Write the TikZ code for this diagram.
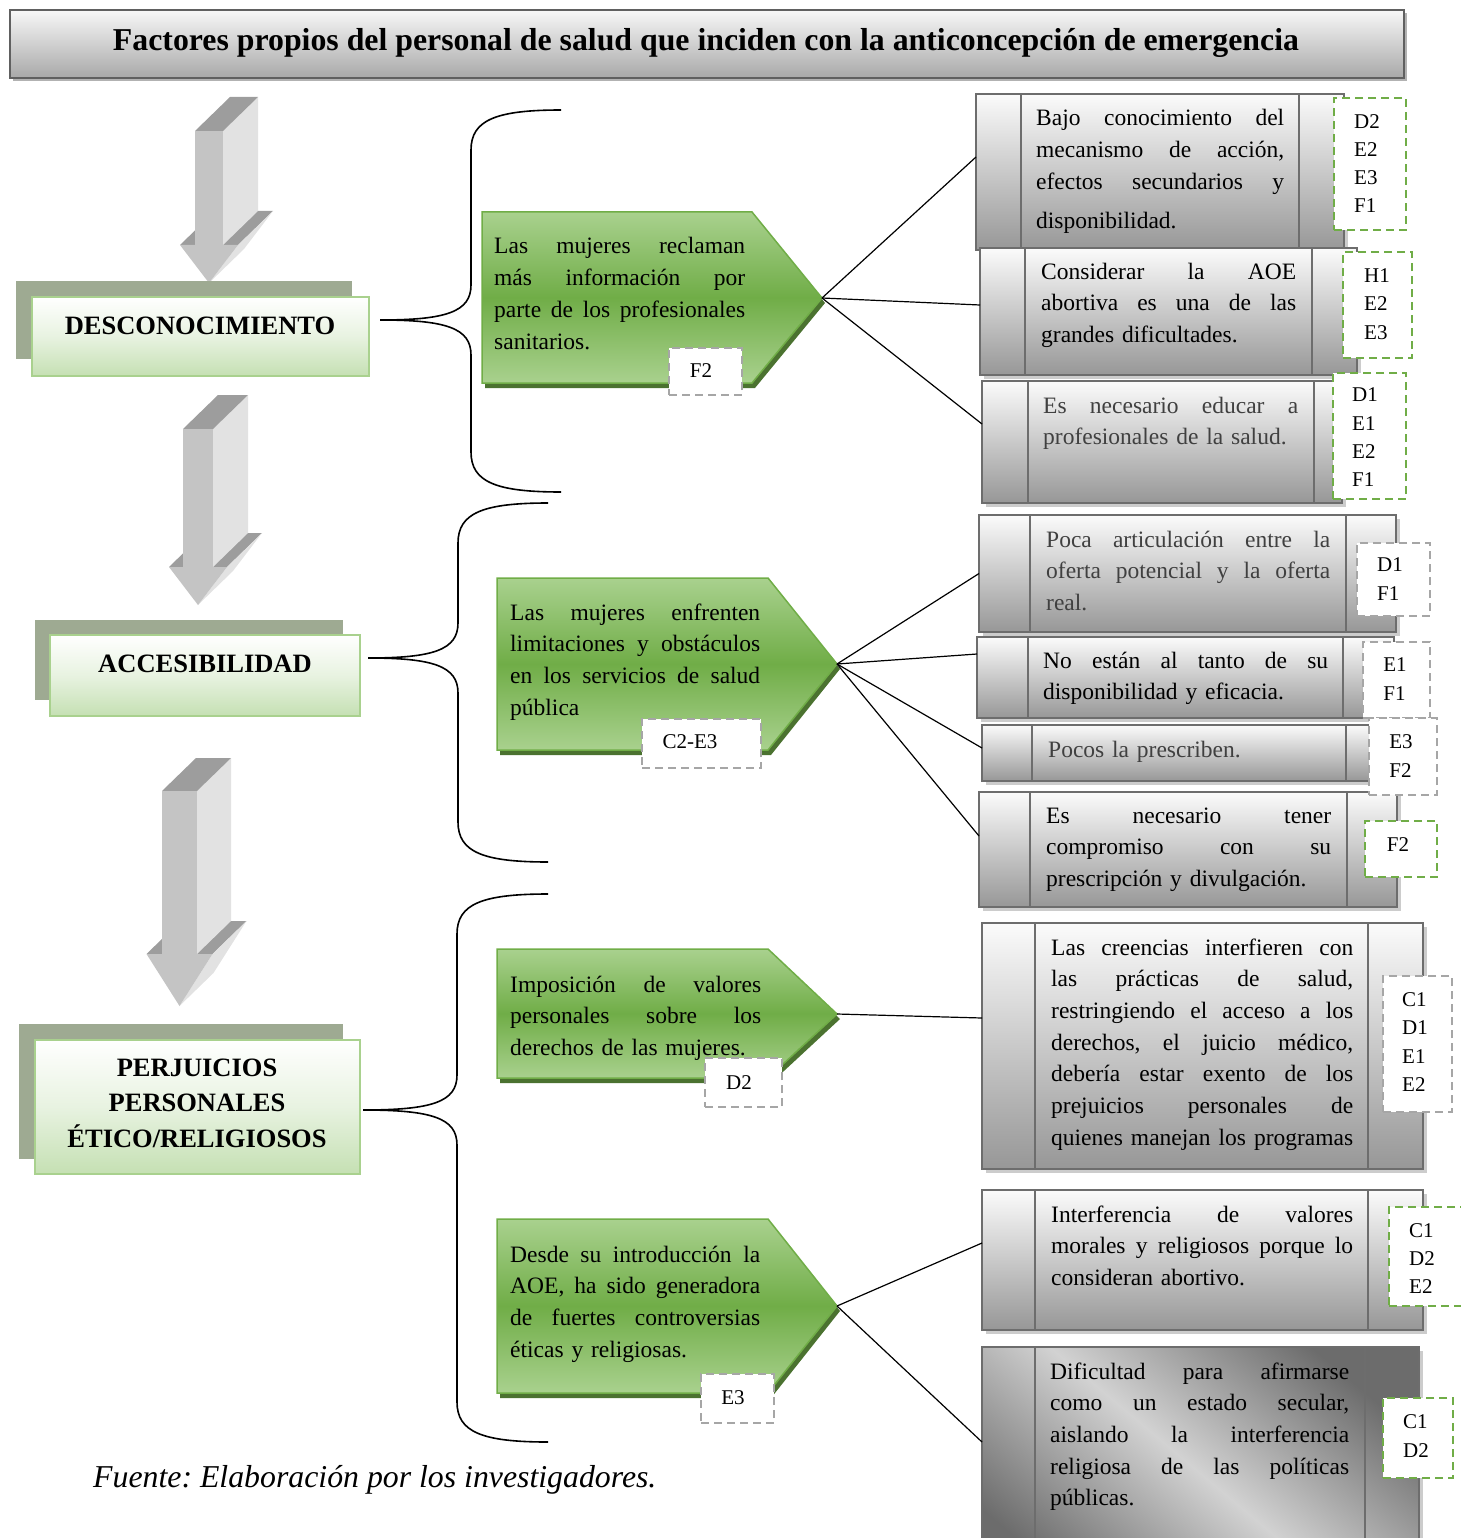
\documentclass[tikz,border=0pt]{standalone}
\usepackage{fontspec}
\setmainfont{Liberation Serif}
\usepackage{graphicx}

\definecolor{boxedge}{HTML}{6D6D6D}
\definecolor{boxtop}{HTML}{FBFBFB}
\definecolor{boxbot}{HTML}{979797}
\definecolor{darkpanel}{HTML}{6C6C6C}
\definecolor{lightpanel}{HTML}{D2D2D2}
\definecolor{leaflight}{HTML}{A9D18E}
\definecolor{leafmid}{HTML}{70AD47}
\definecolor{leafshadow}{HTML}{4B7230}
\definecolor{catshadow}{HTML}{9EAA92}
\definecolor{catbot}{HTML}{C5E0B3}
\definecolor{catedge}{HTML}{A9D18E}
\definecolor{taggray}{HTML}{A6A6A6}
\definecolor{taggreen}{HTML}{70AD47}
\definecolor{arrfront}{HTML}{C4C4C4}
\definecolor{arrside}{HTML}{E2E2E2}
\definecolor{arrtop}{HTML}{9D9D9D}
\definecolor{softtext}{HTML}{404040}

% one justified line: its word spaces stretch to fill the given width
\newlength\jlwidth
\newcommand\jl[1]{\makebox[\jlwidth][s]{\spaceskip=\fontdimen2\font plus 1fill\relax #1}}

% 3D block arrow pointing down: xL, xR, yTop, yShaftEnd, yTip, head half width, depth dx, depth dy
\newcommand\blockarrow[8]{%
  \pgfmathsetmacro\arrmid{(#1+#2)/2}
  \fill[arrtop] (\arrmid-#6,#4) -- (\arrmid+#6,#4) -- (\arrmid+#6+#7,#4-#8) -- (\arrmid-#6+#7,#4-#8) -- cycle;
  \fill[arrside] (\arrmid+#6,#4) -- (\arrmid+#6+#7,#4-#8) -- (\arrmid+#7,#5-#8) -- (\arrmid,#5) -- cycle;
  \fill[arrside] (#2,#3) -- (#2+#7,#3-#8) -- (#2+#7,#4-#8) -- (#2,#4) -- cycle;
  \fill[arrtop] (#1,#3) -- (#1+#7,#3-#8) -- (#2+#7,#3-#8) -- (#2,#3) -- cycle;
  \fill[arrfront] (#1,#3) rectangle (#2,#4);
  \fill[arrfront] (\arrmid-#6,#4) -- (\arrmid+#6,#4) -- (\arrmid,#5) -- cycle;
}

% green pennant: name, x left, y top, x shoulder, x tip, y tip, y bottom
\newcommand\pennant[7]{%
  \fill[leafshadow] (#2+3,#3+5) -- (#4+3,#3+5) -- (#5+3,#6+5) -- (#4+3,#7+5) -- (#2+3,#7+5) -- cycle;
  \path[pennantfill] (#2,#3) -- (#4,#3) -- (#5,#6) -- (#4,#7) -- (#2,#7) -- cycle;
  \coordinate (#1) at (#5,#6);
}

% gray panel with two side strips: [style] name, x1, y1, x2, y2, left strip x, right strip x
\newcommand\panel[8][]{%
  \fill[panelshadow] (#3+4,#4+4) rectangle (#5+4,#6+4);
  \node[graybox,#1,minimum width=#5-#3,minimum height=#6-#4] (#2) at ({(#3+#5)/2},{(#4+#6)/2}) {};
  \draw[strip] (#7,#4) -- (#7,#6) (#8,#4) -- (#8,#6);
}

% curly bracket opening to the right: x ends, y top, x spine, x tip, y tip, y bottom
\newcommand\bracepath[6]{%
  \draw[bracestroke] (#1,#2) .. controls (#3+25,#2) and (#3,#2+10) .. (#3,#2+40)
    -- (#3,#5-35) .. controls (#3,#5-8) and (#3-25,#5) .. (#4,#5)
    .. controls (#3-25,#5) and (#3,#5+8) .. (#3,#5+35)
    -- (#3,#6-40) .. controls (#3,#6-10) and (#3+25,#6) .. (#1,#6);
}

\begin{document}
\frenchspacing
\begin{tikzpicture}[x=1pt,y=-1pt,
  graybox/.style={draw=boxedge, line width=2.5pt, top color=boxtop, bottom color=boxbot, inner sep=0pt, outer sep=0pt},
  darkshade/.style={top color=darkpanel, bottom color=darkpanel, middle color=lightpanel, shading angle=-40},
  panelshadow/.style={fill=gray!40},
  strip/.style={draw=boxedge, line width=2.5pt},
  pennantfill/.style={top color=leaflight, bottom color=leaflight, middle color=leafmid, draw=leafmid, line width=1.5pt},
  catbox/.style={draw=catedge, line width=2pt, top color=white, bottom color=catbot, middle color=white!60!catbot, inner sep=0pt, outer sep=0pt},
  titlebar/.style={draw=gray!75!black, line width=2pt, top color=gray!6, bottom color=gray!68, inner sep=0pt, outer sep=0pt},
  linkline/.style={draw=black, line width=1.2pt},
  bracestroke/.style={draw=black, line width=1.6pt},
  bodytext/.style={font=\fontsize{23.5}{31.7}\selectfont, inner sep=0pt, anchor=base west, text width=#1,
    execute at begin node={\setlength{\jlwidth}{#1}}},
  tagbox/.style={draw=#1, fill=white, dash pattern=on 8pt off 5pt, line width=2.2pt, inner sep=0pt},
  codetext/.style={font=\fontsize{21}{28.3}\selectfont, inner sep=0pt, align=left},
  cattext/.style={font=\bfseries\fontsize{26.5}{35.5}\selectfont, inner sep=0pt, anchor=base, text width=330pt, align=center}
]
\useasboundingbox (0,0) rectangle (1460,1538);

% ---------- title ----------
\fill[gray!60] (13,13) rectangle (1407,81);
\node[titlebar, minimum width=1394, minimum height=68] (title) at (707,44) {};
\node[font=\bfseries\fontsize{31.8}{36}\selectfont, inner sep=0pt, anchor=base] (titletext) at (706,51)
  {Factores propios del personal de salud que inciden con la anticoncepción de emergencia};

% ---------- block arrows ----------
\blockarrow{195}{223}{131}{245}{283}{29}{35}{34}
\blockarrow{183}{213}{429}{567}{605}{29}{35}{34}
\blockarrow{162}{197}{791}{954}{1006}{33}{34}{33}

% ---------- categories ----------
\fill[catshadow] (16,281) rectangle (352,359);
\node[catbox, minimum width=337, minimum height=79] (cat1) at (200.5,336.5) {};
\node[cattext] (cat1t) at (200,334) {DESCONOCIMIENTO};

\fill[catshadow] (35,620) rectangle (343,700);
\node[catbox, minimum width=310, minimum height=81] (cat2) at (205,675.5) {};
\node[cattext] (cat2t) at (205,672) {ACCESIBILIDAD};

\fill[catshadow] (19,1024) rectangle (343,1159);
\node[catbox, minimum width=325, minimum height=134] (cat3) at (197.5,1107) {};
\node[cattext] (cat3t) at (197,1076) {PERJUICIOS\\PERSONALES\\ÉTICO/RELIGIOSOS};

% ---------- brackets ----------
\bracepath{561}{110}{471}{380}{320}{492}
\bracepath{548}{503}{458}{368}{658}{862}
\bracepath{548}{894}{457}{363}{1110}{1442}

% ---------- pennants ----------
\pennant{p1}{482}{212}{752}{822}{298}{383}
\pennant{p2}{497}{578}{768}{837}{664}{750}
\pennant{p3}{497}{949}{768}{837}{1014}{1078}
\pennant{p4}{497}{1219}{768}{837}{1306}{1393}

\node[bodytext=251pt] (p1t) at (494,254)
  {\jl{Las mujeres reclaman}\\\jl{más información por}\\\jl{parte de los profesionales}\\sanitarios.};
\node[bodytext=250pt] (p2t) at (510,620)
  {\jl{Las mujeres enfrenten}\\\jl{limitaciones y obstáculos}\\\jl{en los servicios de salud}\\pública};
\node[bodytext=251pt] (p3t) at (510,992)
  {\jl{Imposición de valores}\\\jl{personales sobre los}\\derechos de las mujeres.};
\node[bodytext=250pt] (p4t) at (510,1262)
  {\jl{Desde su introducción la}\\\jl{AOE, ha sido generadora}\\\jl{de fuertes controversias}\\éticas y religiosas.};

\node[tagbox=taggray, minimum width=73, minimum height=47] (tp1) at (705.5,371.5) {};
\node[codetext] (tp1t) at (701,371) {F2};
\node[tagbox=taggray, minimum width=119, minimum height=49] (tp2) at (701.5,743.5) {};
\node[codetext] (tp2t) at (690,742) {C2-E3};
\node[tagbox=taggray, minimum width=77, minimum height=49] (tp3) at (743.5,1082.5) {};
\node[codetext] (tp3t) at (739,1083) {D2};
\node[tagbox=taggray, minimum width=73, minimum height=49] (tp4) at (737.5,1398.5) {};
\node[codetext] (tp4t) at (733,1398) {E3};

% ---------- panels ----------
\panel{a1}{976}{94}{1344}{250}{1021}{1299}
\panel{a2}{980}{248}{1357}{375}{1025}{1312}
\panel{a3}{982}{381}{1342}{503}{1028}{1314}
\panel{b1}{979}{515}{1396}{632}{1030}{1346}
\panel{b2}{977}{637}{1394}{718}{1028}{1343}
\panel{b3}{982}{725}{1380}{781}{1032}{1346}
\panel{b4}{979}{792}{1397}{907}{1030}{1347}
\panel{c1}{982}{923}{1423}{1169}{1035}{1368}
\panel{c2}{982}{1190}{1423}{1330}{1035}{1368}
\panel[darkshade]{c3}{982}{1347}{1419}{1600}{1035}{1365}

\node[bodytext=248pt] (a1t) at (1036,126)
  {\jl{Bajo conocimiento del}\\\jl{mecanismo de acción,}\\\jl{efectos secundarios y}\\[7pt]disponibilidad.};
\node[bodytext=255pt] (a2t) at (1041,279)
  {\jl{Considerar la AOE}\\\jl{abortiva es una de las}\\grandes dificultades.};
\node[bodytext=255pt, text=softtext] (a3t) at (1043,413)
  {\jl{Es necesario educar a}\\profesionales de la salud.};
\node[bodytext=284pt, text=softtext] (b1t) at (1046,547)
  {\jl{Poca articulación entre la}\\\jl{oferta potencial y la oferta}\\real.};
\node[bodytext=285pt] (b2t) at (1043,668)
  {\jl{No están al tanto de su}\\disponibilidad y eficacia.};
\node[bodytext=280pt, text=softtext] (b3t) at (1048,757)
  {Pocos la prescriben.};
\node[bodytext=285pt] (b4t) at (1046,823)
  {\jl{Es necesario tener}\\\jl{compromiso con su}\\prescripción y divulgación.};
\node[bodytext=302pt] (c1t) at (1051,955)
  {\jl{Las creencias interfieren con}\\\jl{las prácticas de salud,}\\\jl{restringiendo el acceso a los}\\\jl{derechos, el juicio médico,}\\\jl{debería estar exento de los}\\\jl{prejuicios personales de}\\\jl{quienes manejan los programas}};
\node[bodytext=302pt] (c2t) at (1051,1222)
  {\jl{Interferencia de valores}\\\jl{morales y religiosos porque lo}\\consideran abortivo.};
\node[bodytext=299pt] (c3t) at (1050,1379)
  {\jl{Dificultad para afirmarse}\\\jl{como un estado secular,}\\\jl{aislando la interferencia}\\\jl{religiosa de las políticas}\\públicas.};

% ---------- codes ----------
\node[tagbox=taggreen, minimum width=72, minimum height=132] (ta1) at (1370,164) {};
\node[codetext] (ta1t) at (1367,163.5) {D2\\E2\\E3\\F1};
\node[tagbox=taggreen, minimum width=69, minimum height=106] (ta2) at (1377.5,305) {};
\node[codetext] (ta2t) at (1377,304) {H1\\E2\\E3};
\node[tagbox=taggreen, minimum width=73, minimum height=126] (ta3) at (1369.5,436) {};
\node[codetext] (ta3t) at (1365,437.5) {D1\\E1\\E2\\F1};
\node[tagbox=taggray, minimum width=73, minimum height=73] (tb1) at (1393.5,579.5) {};
\node[codetext] (tb1t) at (1390,579) {D1\\F1};
\node[tagbox=taggray, minimum width=67, minimum height=76] (tb2) at (1396.5,680) {};
\node[codetext] (tb2t) at (1395,679) {E1\\F1};
\node[tagbox=taggray, minimum width=68, minimum height=77] (tb3) at (1403,756.5) {};
\node[codetext] (tb3t) at (1401,756) {E3\\F2};
\node[tagbox=taggreen, minimum width=72, minimum height=56] (tb4) at (1401,849) {};
\node[codetext] (tb4t) at (1398,845) {F2};
\node[tagbox=taggray, minimum width=69, minimum height=136] (tc1) at (1417.5,1044) {};
\node[codetext] (tc1t) at (1415,1042) {C1\\D1\\E1\\E2};
\node[tagbox=taggreen, minimum width=81, minimum height=99] (tc2) at (1429.5,1256.5) {};
\node[codetext] (tc2t) at (1422,1258.5) {C1\\D2\\E2};
\node[tagbox=taggreen, minimum width=70, minimum height=80] (tc3) at (1418,1438) {};
\node[codetext] (tc3t) at (1416,1436) {C1\\D2};

% ---------- connectors ----------
\draw[linkline] (p1) -- ([yshift=15pt]a1.west);
\draw[linkline] (p1) -- ([yshift=6.5pt]a2.west);
\draw[linkline] (p1) -- ([yshift=18pt]a3.west);
\draw[linkline] (p2) -- ([yshift=0pt]b1.west);
\draw[linkline] (p2) -- ([yshift=23.5pt]b2.west);
\draw[linkline] (p2) -- ([yshift=5pt]b3.west);
\draw[linkline] (p2) -- ([yshift=13.5pt]b4.west);
\draw[linkline] (p3) -- ([yshift=28pt]c1.west);
\draw[linkline] (p4) -- ([yshift=17pt]c2.west);
\draw[linkline] (p4) -- ([yshift=31.5pt]c3.west);

% ---------- source ----------
\node[font=\itshape\fontsize{31.8}{36}\selectfont, inner sep=0pt, anchor=base west] (source) at (93,1487)
  {Fuente: Elaboración por los investigadores.};
\end{tikzpicture}
\end{document}
